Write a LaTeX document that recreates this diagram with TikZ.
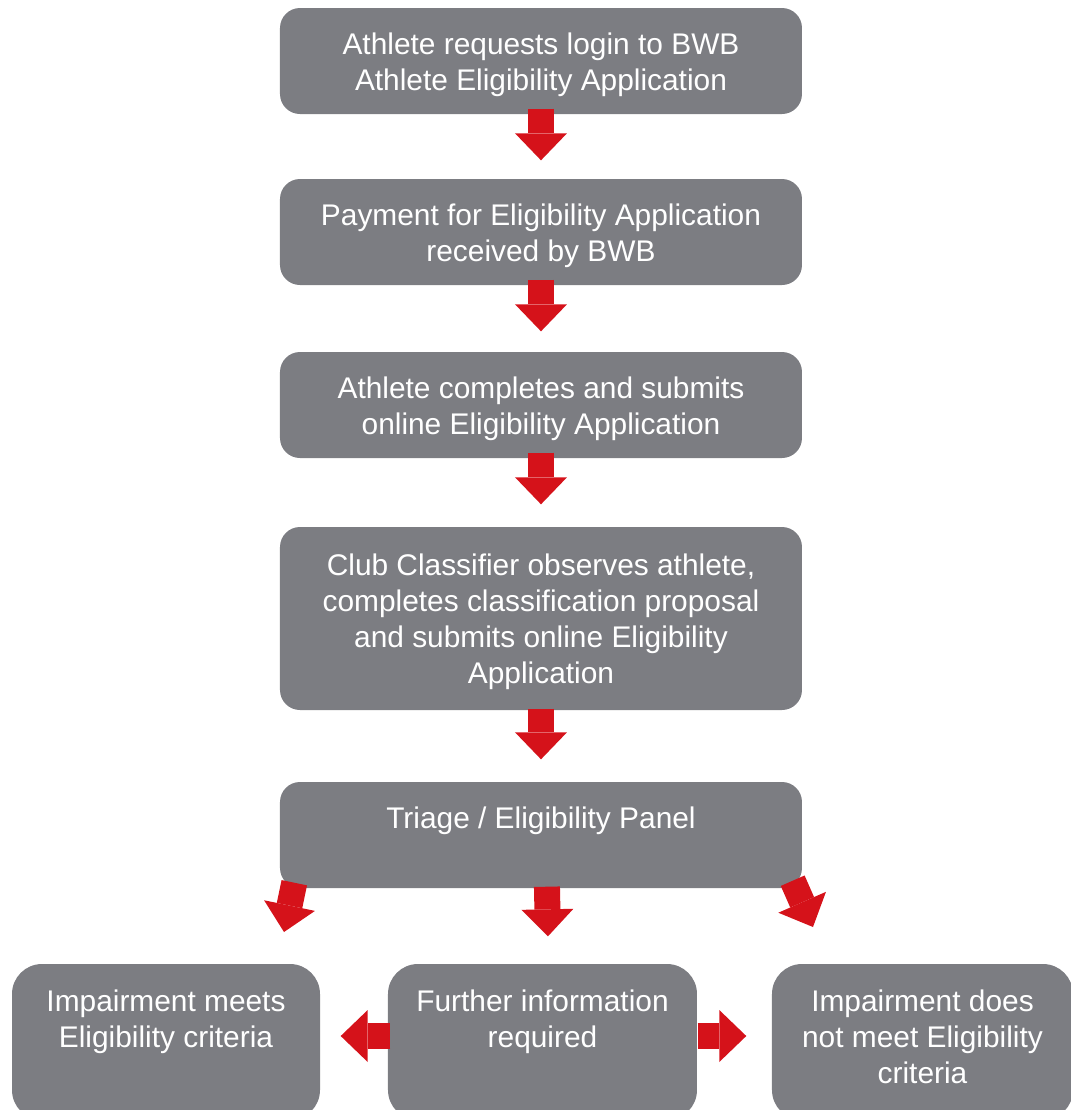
\documentclass[tikz,border=0pt]{standalone}
\usepackage{fontspec}
\setmainfont{Liberation Sans}
\usetikzlibrary{arrows.meta}

\definecolor{boxgray}{RGB}{124,125,130}
\definecolor{flowred}{RGB}{213,18,26}

\tikzset{
    box/.style={fill=boxgray, rounded corners=0.2cm, minimum width=5.22cm, minimum height=1.06cm, inner sep=0pt},
    smallbox/.style={box, rounded corners=0.3cm, minimum width=3.08cm, minimum height=1.56cm},
    boxtext/.style={text=white, align=center, anchor=north, inner sep=0pt, font=\fontsize{8.5}{10.24}\selectfont},
    flow/.style={draw=flowred, line width=0.26cm, -{Triangle[width=0.52cm, length=0.27cm, line width=0pt]}},
}

\begin{document}
\begin{tikzpicture}
    \useasboundingbox (0,0) rectangle (10.71,-11.10);
    \clip (0,0) rectangle (10.71,-11.10);
    % Draw the main chain of boxes
    \node[box] (login) at (5.41,-0.61) {};
    \node[box] (payment) at (5.41,-2.32) {};
    \node[box] (submit) at (5.41,-4.05) {};
    \node[box, minimum height=1.83cm] (classifier) at (5.41,-6.185) {};
    \node[box] (triage) at (5.41,-8.35) {};
    % Draw the three outcomes
    \node[smallbox] (meets) at (1.66,-10.42) {};
    \node[smallbox, minimum width=3.09cm] (further) at (5.425,-10.42) {};
    \node[smallbox, minimum width=3.01cm] (notmeets) at (9.225,-10.42) {};
    % Texts, hung from the top of each box
    \node[boxtext] (loginText) at ([yshift=-0.25cm]login.north) {Athlete requests login to BWB\\ Athlete Eligibility Application};
    \node[boxtext] (paymentText) at ([yshift=-0.25cm]payment.north) {Payment for Eligibility Application\\received by BWB};
    \node[boxtext] (submitText) at ([yshift=-0.25cm]submit.north) {Athlete completes and submits\\ online Eligibility Application};
    \node[boxtext] (classifierText) at ([yshift=-0.27cm]classifier.north) {Club Classifier observes athlete,\\completes classification proposal\\and submits online Eligibility\\Application};
    \node[boxtext] (triageText) at ([yshift=-0.25cm]triage.north) {Triage / Eligibility Panel};
    \node[boxtext] (meetsText) at ([yshift=-0.26cm]meets.north) {Impairment meets\\Eligibility criteria};
    \node[boxtext] (furtherText) at ([yshift=-0.26cm]further.north) {Further information\\required};
    \node[boxtext] (notmeetsText) at ([yshift=-0.26cm]notmeets.north) {Impairment does\\not meet Eligibility\\criteria};
    % Draw the downward arrows
    \foreach \a/\b/\gap in {login/payment/0.18, payment/submit/0.20, submit/classifier/0.22} {
            \draw[flow, shorten <=-0.06cm, shorten >=\gap cm] (\a) -- (\b);
        }
    \draw[flow, shorten <=-0.02cm, shorten >=0.22cm] (classifier) -- (triage);
    \draw[flow, shorten <=-0.02cm, shorten >=0.27cm] ([xshift=0.06cm]triage.south) -- ([xshift=0.06cm]further.north);
    % Slanted arrows to the outcomes
    \coordinate (meetsTip) at (2.84,-9.32);
    \coordinate (notmeetsTip) at (8.13,-9.27);
    \draw[flow] ([shift={(0.15,0.06)}]triage.south west) -- (meetsTip);
    \draw[flow] ([shift={(-0.10,0.08)}]triage.south east) -- (notmeetsTip);
    % Sideways arrows
    \draw[flow, shorten <=-0.03cm, shorten >=0.20cm] ([yshift=0.06cm]further.west) -- ([yshift=0.06cm]meets.east);
    \draw[flow, shorten >=0.25cm] ([yshift=0.06cm]further.east) -- ([yshift=0.06cm]notmeets.west);
\end{tikzpicture}
\end{document}
